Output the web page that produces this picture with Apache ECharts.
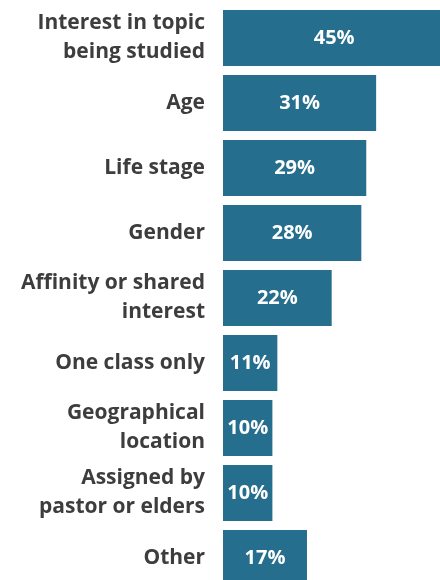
<!DOCTYPE html>
<html>
<head>
<meta charset="utf-8">
<script src="https://cdn.jsdelivr.net/npm/echarts@6/dist/echarts.min.js"></script>
<style>
html,body{margin:0;padding:0;background:#fff;overflow:hidden;}
#chart{width:470px;height:600px;}
</style>
</head>
<body>
<div id="chart"></div>
<script>
var categories = [
  "Interest in topic\nbeing studied",
  "Age",
  "Life stage",
  "Gender",
  "Affinity or shared\ninterest",
  "One class only",
  "Geographical\nlocation",
  "Assigned by\npastor or elders",
  "Other"
];
var values = [45, 31, 29, 28, 22, 11, 10, 10, 17];

var chart = echarts.init(document.getElementById('chart'), null, {renderer: 'canvas'});
chart.setOption({
  animation: false,
  backgroundColor: '#ffffff',
  grid: {left: 223, top: 5.5, right: 0, height: 585, containLabel: false},
  xAxis: {
    type: 'value', min: 0, max: 50, show: false
  },
  yAxis: {
    type: 'category',
    data: categories,
    inverse: true,
    axisLine: {show: false},
    axisTick: {show: false},
    axisLabel: {
      color: '#3d3d3d',
      fontFamily: 'Open Sans',
      fontWeight: 'bold',
      fontSize: 21,
      lineHeight: 29,
      margin: 18,
      align: 'right'
    }
  },
  series: [{
    type: 'bar',
    data: values,
    barWidth: 56,
    itemStyle: {color: '#266e8d'},
    label: {
      show: true,
      position: 'inside',
      formatter: '{c}%',
      color: '#ffffff',
      fontFamily: 'Open Sans',
      fontWeight: 'bold',
      fontSize: 20
    }
  }]
});
</script>
</body>
</html>
